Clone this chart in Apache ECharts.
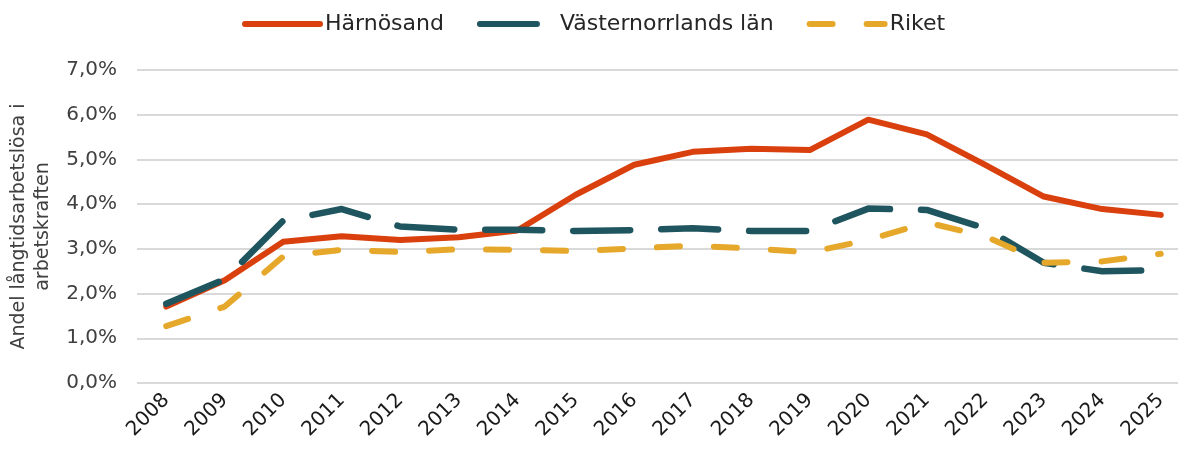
<!DOCTYPE html>
<html>
<head>
<meta charset="utf-8">
<script src="https://cdn.jsdelivr.net/npm/echarts@6/dist/echarts.min.js"></script>
<style>
  html, body { margin: 0; padding: 0; background: #fff; }
  #chart { width: 1178px; height: 450px; }
</style>
</head>
<body>
<div id="chart"></div>
<script>
// År på x-axeln
const years = ['2008', '2009', '2010', '2011', '2012', '2013', '2014', '2015', '2016',
  '2017', '2018', '2019', '2020', '2021', '2022', '2023', '2024', '2025'];

// Andel långtidsarbetslösa, procent
const harnosand = [1.71, 2.30, 3.16, 3.28, 3.20, 3.26, 3.41, 4.21, 4.88,
  5.17, 5.24, 5.21, 5.89, 5.56, 4.88, 4.17, 3.89, 3.76];
const vasternorrland = [1.77, 2.32, 3.63, 3.89, 3.50, 3.43, 3.43, 3.40, 3.42,
  3.46, 3.40, 3.40, 3.90, 3.87, 3.46, 2.69, 2.50, 2.52];
const riket = [1.27, 1.71, 2.83, 2.98, 2.93, 2.99, 2.98, 2.95, 3.01,
  3.07, 3.01, 2.92, 3.20, 3.59, 3.28, 2.69, 2.72, 2.89];

const FONT = '"DejaVu Sans", sans-serif';

const chart = echarts.init(document.getElementById('chart'));

const option = {
  animation: false,
  textStyle: { fontFamily: FONT },
  legend: {
    top: 8,
    left: 237,
    itemWidth: 75,
    itemHeight: 14,
    itemGap: 33,
    itemStyle: { opacity: 0 },
    lineStyle: { width: 6, cap: 'round' },
    textStyle: { fontSize: 22, color: '#262626', fontFamily: FONT },
    data: ['Härnösand', 'Västernorrlands län', 'Riket'],
  },
  grid: {
    left: 137,
    top: 70,
    width: 1053,
    height: 313,
    outerBoundsMode: 'none',
  },
  xAxis: {
    type: 'category',
    data: years,
    boundaryGap: true,
    axisLine: { show: false },
    axisTick: { show: false },
    axisLabel: {
      rotate: 45,
      margin: 14,
      interval: 0,
      fontSize: 20,
      color: '#1a1a1a',
      fontFamily: FONT,
    },
  },
  yAxis: {
    type: 'value',
    min: 0,
    max: 7,
    interval: 1,
    name: 'Andel långtidsarbetslösa i\narbetskraften',
    nameLocation: 'middle',
    nameRotate: 90,
    nameGap: 81,
    nameTextStyle: { fontSize: 19, color: '#404040', lineHeight: 24, fontFamily: FONT },
    axisLine: { show: false },
    axisTick: { show: false },
    axisLabel: {
      margin: 20,
      fontSize: 20,
      color: '#404040',
      fontFamily: FONT,
      formatter: (v) => v.toFixed(1).replace('.', ',') + '%',
    },
    splitLine: { lineStyle: { color: '#d9d9d9', width: 2 } },
  },
  series: [
    {
      name: 'Härnösand',
      type: 'line',
      data: harnosand,
      symbol: 'none',
      lineStyle: { color: '#d9400e', width: 6, cap: 'round', join: 'round' },
      itemStyle: { color: '#d9400e' },
    },
    {
      name: 'Västernorrlands län',
      type: 'line',
      data: vasternorrland,
      symbol: 'none',
      lineStyle: { color: '#1f555e', width: 6.5, type: [57, 31], cap: 'round', join: 'round' },
      itemStyle: { color: '#1f555e' },
    },
    {
      name: 'Riket',
      type: 'line',
      data: riket,
      symbol: 'none',
      lineStyle: { color: '#e6a82a', width: 6, type: [23, 34], cap: 'round', join: 'round' },
      itemStyle: { color: '#e6a82a' },
    },
  ],
};

chart.setOption(option);
</script>
</body>
</html>
